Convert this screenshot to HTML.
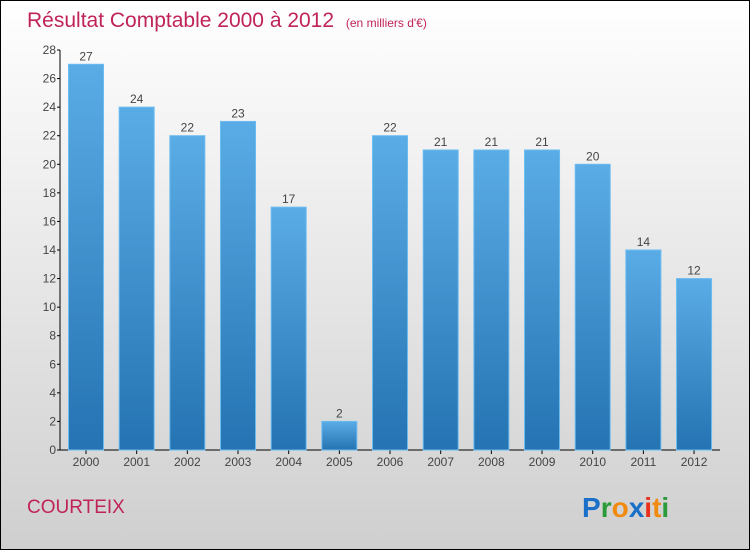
<!DOCTYPE html>
<html><head><meta charset="utf-8"><style>
body{margin:0;width:750px;height:550px;overflow:hidden;font-family:"Liberation Sans",sans-serif}
</style></head><body>
<svg width="750" height="550">
<defs>
<linearGradient id="bg" x1="0" y1="0" x2="0" y2="1"><stop offset="0" stop-color="#ffffff"/><stop offset="1" stop-color="#cfcfcf"/></linearGradient>
<linearGradient id="bar" x1="0" y1="0" x2="0" y2="1"><stop offset="0" stop-color="#5aace6"/><stop offset="1" stop-color="#2573b2"/></linearGradient>
</defs>
<rect x="0.5" y="0.5" width="749" height="549" fill="url(#bg)" stroke="#000"/>
<text x="27" y="27" font-size="21" fill="#c0235a">Résultat Comptable 2000 à 2012 <tspan font-size="12" dx="6">(en milliers d'€)</tspan></text>
<g id="axes"></g>
<g id="bars"></g>
<text x="27" y="513" font-size="19" fill="#c0235a">COURTEIX</text>
<text x="582" y="517" font-size="28" font-weight="bold"><tspan fill="#1a6fc8">P</tspan><tspan fill="#2a9a3a">r</tspan><tspan fill="#f08a10">o</tspan><tspan fill="#1a6fc8">x</tspan><tspan fill="#e8301a">i</tspan><tspan fill="#f08a10">t</tspan><tspan fill="#2a9a3a">i</tspan></text>
</svg>
<script>
const categories=["2000","2001","2002","2003","2004","2005","2006","2007","2008","2009","2010","2011","2012"];
const values=[27,24,22,23,17,2,22,21,21,21,20,14,12];
const yTicks=[0,2,4,6,8,10,12,14,16,18,20,22,24,26,28];
const NS="http://www.w3.org/2000/svg";
const y0=450,yTop=50,yMax=28,x0=60,step=50.67,bw=35;
const y=v=>y0-(v/yMax)*(y0-yTop);
const xc=i=>86+i*step;
const ax=document.getElementById('axes'),bg=document.getElementById('bars');
function mk(tag,attrs,parent){const e=document.createElementNS(NS,tag);for(const k in attrs)e.setAttribute(k,attrs[k]);parent.appendChild(e);return e;}
let l=mk('line',{x1:x0,y1:yTop,x2:x0,y2:y0,stroke:'#000'},ax);


l=mk('line',{x1:x0,y1:y0,x2:720,y2:y0,stroke:'#000'},ax);


yTicks.forEach(t=>{
 const tk=mk('line',{x1:x0-3,y1:y(t),x2:x0,y2:y(t),stroke:'#000'},ax);
 
 
 const tx=mk('text',{x:x0-4,y:y(t)+4,'font-size':12,fill:'#444','text-anchor':'end'},ax);
 tx.textContent=t;
 
 
});
categories.forEach((c,i)=>{
 const r=mk('rect',{x:xc(i)-bw/2,y:y(values[i]),width:bw,height:y0-y(values[i]),fill:'url(#bar)',stroke:'#6bbcf0','stroke-width':1},bg);
 
 
 const v=mk('text',{x:xc(i),y:y(values[i])-4,'font-size':12,fill:'#444','text-anchor':'middle'},bg);
 v.textContent=values[i];
 
 
 const tk=mk('line',{x1:xc(i),y1:y0,x2:xc(i),y2:y0+4,stroke:'#000'},ax);
 
 
 const t=mk('text',{x:xc(i),y:y0+16,'font-size':12,fill:'#444','text-anchor':'middle'},ax);
 t.textContent=c;
 
 
});
</script>
</body></html>
